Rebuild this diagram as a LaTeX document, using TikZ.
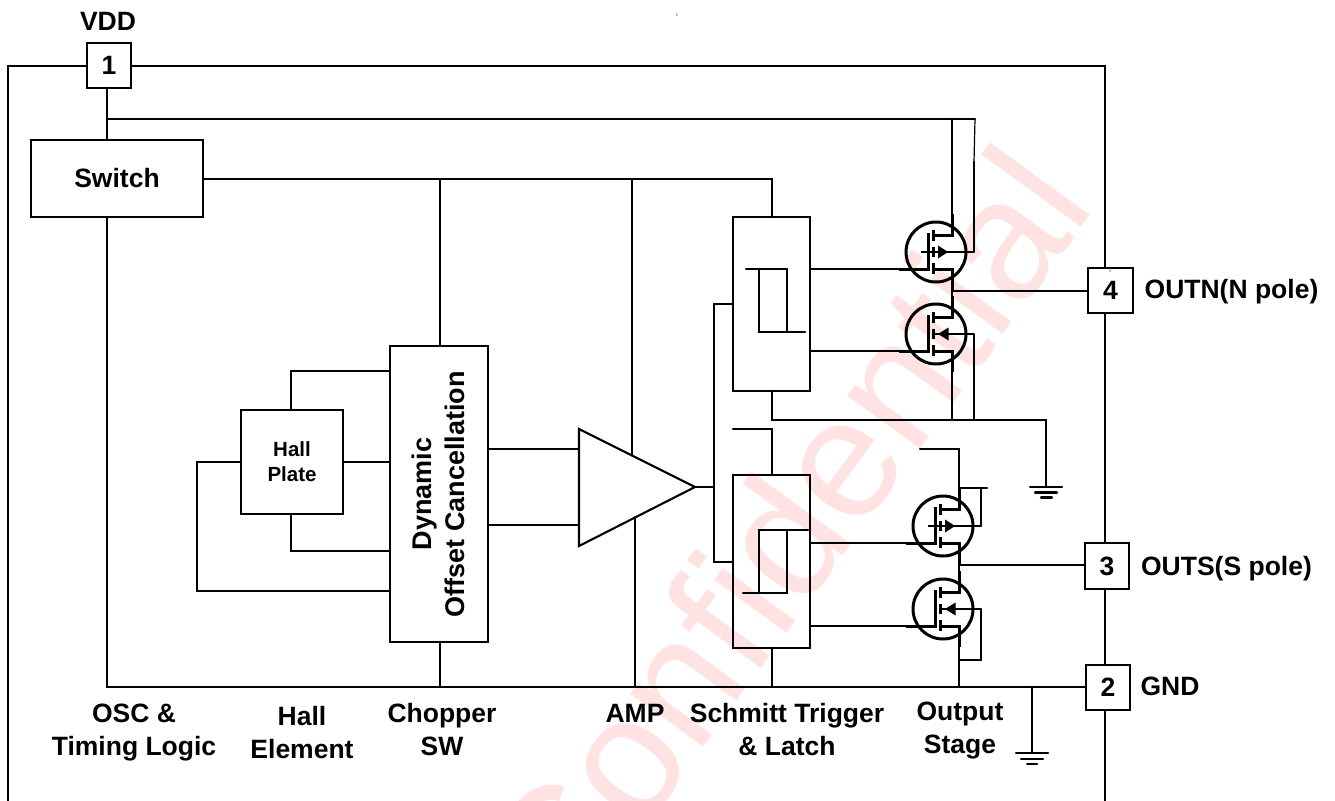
\documentclass[tikz,border=0pt]{standalone}
\usepackage{fontspec}
\setmainfont{Liberation Sans}
\begin{document}
\begin{tikzpicture}[x=1pt,y=-1pt,
  wire/.style={line width=2.1pt,line cap=round,line join=miter},
  bx/.style={draw,line width=2.1pt,rectangle,inner sep=0pt,outer sep=0pt,align=center,font=\bfseries\fontsize{26.5}{32}\selectfont},
  lbl/.style={inner sep=0pt,align=center,font=\bfseries\fontsize{26.5}{33}\selectfont},
  tiny/.style={inner sep=0pt,font=\fontsize{4}{4}\selectfont,text=black!70},
  mosbase/.pic={
    \draw[line width=3pt] (0,0) circle (30);
    \draw[line width=3pt] (-8,-19) -- (-8,17) -- (-37,17);
    \draw[line width=3.4pt] (-2.5,-22) -- (-2.5,-11) (-2.5,-5) -- (-2.5,5) (-2.5,11) -- (-2.5,22);
    \draw[line width=3pt] (-2.5,-17) -- (16,-17) -- (16,-38);
    \draw[line width=3pt] (-2.5,17) -- (16,17) -- (16,38);
  },
  mosr/.pic={
    \pic (-i) {mosbase};
    \draw[line width=2.8pt] (-15,0) -- (38,0);
    \fill (12,0) -- (2,-6.5) -- (2,6.5) -- cycle;
    \coordinate (-d) at (16,-30); \coordinate (-s) at (16,30);
    \coordinate (-g) at (-28,17); \coordinate (-b) at (38,0);
  },
  mosl/.pic={
    \pic (-i) {mosbase};
    \draw[line width=2.8pt] (-2.5,0) -- (38,0);
    \fill (2,0) -- (12.5,-6.5) -- (12.5,6.5) -- cycle;
    \coordinate (-d) at (16,-30); \coordinate (-s) at (16,30);
    \coordinate (-g) at (-28,17); \coordinate (-b) at (38,0);
  }]
\useasboundingbox (0,0) rectangle (1335,800);
\begin{scope}
\clip (0,0) rectangle (1335,800);
% watermark
\node[rotate=54,inner sep=0pt,anchor=base east,text=red!11,font=\fontsize{170}{170}\selectfont] (wm) at (1097,206) {Confidential};

% pins and blocks
\node[bx,minimum width=44,minimum height=45] (p1) at (109,65.5) {1};
\node[bx,minimum width=45,minimum height=45] (p4) at (1110.5,290.5) {4};
\node[bx,minimum width=44,minimum height=46] (p3) at (1107,566) {3};
\node[bx,minimum width=44,minimum height=45] (p2) at (1108,687.5) {2};
\node[bx,minimum width=172,minimum height=77] (sw) at (117,178.5) {Switch};
\node[bx,minimum width=98,minimum height=296] (dyn) at (439,494) {};
\node[rotate=90,inner sep=0pt,align=center,font=\bfseries\fontsize{27}{32.5}\selectfont] (dyntxt) at (438.5,494) {Dynamic\\Offset Cancellation};
\node[bx,minimum width=102,minimum height=104,font=\bfseries\fontsize{20.5}{25}\selectfont] (hall) at (292,462) {Hall\\Plate};
\node[bx,minimum width=77,minimum height=174] (lu) at (771.5,304) {};
\node[bx,minimum width=77,minimum height=173] (ll) at (771.5,561.5) {};
\coordinate (lx) at (772,0);

% chip outline
\coordinate (cbl) at (8,810); \coordinate (ctl) at (8,66); \coordinate (ctr) at (1105,66); \coordinate (cbr) at (1105,810);
\draw[wire] (cbl) -- (ctl) -- (p1.west |- ctl);
\draw[wire] (p1.east |- ctr) -- (ctr) -- (ctr |- p4.north);
\draw[wire] (ctr |- p4.south) -- (ctr |- p3.north);
\draw[wire] (ctr |- p3.south) -- (ctr |- p2.north);
\draw[wire] (ctr |- p2.south) -- (cbr);

% MOSFETs
\pic (m1) at (936,252) {mosr};
\pic (m2) at (936,334) {mosl};
\pic (m3) at (943,526) {mosr};
\pic (m4) at (943,609) {mosl};

% supply
\coordinate (vp) at (107,88);
\coordinate (vj) at (107,119);
\coordinate (vr) at (975,119);
\coordinate (vk) at (974,162);
\coordinate (sup) at (952,119);
\draw[wire] (vp) -- (vj |- sw.north);
\draw[wire] (vj) -- (vr);
\draw[line width=1.2pt] (vr) -- (vk);
\draw[wire] (vk) -- (m1-b);
\draw[wire] (sup) -- (m1-d);
\coordinate (dynx) at (440,179);
\coordinate (ampx) at (632,179);
\draw[wire] (sw.east |- dynx) -- (lx |- dynx) -- (lx |- lu.north);
\draw[wire] (dynx) -- (dynx |- dyn.north);
\coordinate (ampA) at (579,429); \coordinate (ampB) at (579,546); \coordinate (ampT) at (695,487);
\draw[wire,line join=miter] (ampA) -- (ampT) -- (ampB) -- cycle;
\coordinate (ampU) at (632,455.5); \coordinate (ampD) at (635,517.5);
\draw[wire] (ampx) -- (ampU);

% rail
\coordinate (railL) at (107,687);
\draw[wire] (vj |- sw.south) -- (railL) -- (p2.west |- railL);
\draw[wire] (ampD) -- (ampD |- railL);
\draw[wire] (dynx |- dyn.south) -- (dynx |- railL);
\draw[wire] (lx |- ll.south) -- (lx |- railL);

% Hall plate wiring
\coordinate (hx) at (291,371);
\draw[wire] (hx |- hall.north) -- (hx) -- (dyn.west |- hx);
\draw[wire] (hall.east) -- (dyn.west |- hall.east);
\coordinate (hb) at (291,551);
\draw[wire] (hb |- hall.south) -- (hb) -- (dyn.west |- hb);
\coordinate (hl) at (197,591);
\draw[wire] (hall.west) -- (hl |- hall.west) -- (hl) -- (dyn.west |- hl);
\coordinate (a1) at (488,449); \coordinate (a2) at (488,525);
\draw[wire] (a1) -- (ampA |- a1);
\draw[wire] (a2) -- (ampA |- a2);

% amp output to latches
\coordinate (bus) at (714,487);
\draw[wire] (ampT) -- (bus);
\draw[wire] (lu.west |- 0,304) -- (bus |- 0,304) -- (bus |- 0,562) -- (ll.west |- 0,562);

% upper latch symbol
\draw[wire] (746,269) -- (787,269) -- (787,332);
\draw[wire] (759,269) -- (759,332) -- (805,332);
% lower latch symbol
\draw[wire] (808,530) -- (759,530) -- (759,593);
\draw[wire] (743,593) -- (787,593) -- (787,530);

% latch tops
\coordinate (lt) at (733,429);
\draw[wire] (lt) -- (lx |- lt) -- (lx |- ll.north);

% gates
\draw[wire] (lu.east |- m1-g) -- (m1-g);
\draw[wire] (lu.east |- m2-g) -- (m2-g);
\draw[wire] (ll.east |- m3-g) -- (m3-g);
\draw[wire] (ll.east |- m4-g) -- (m4-g);

% upper output stage
\coordinate (o4) at (952,291);
\draw[wire] (m1-s) -- (m2-d);
\draw[wire] (o4) -- (p4.west |- o4);
\coordinate (gnd1) at (1046,420);
\draw[wire] (lx |- lu.south) -- (lx |- gnd1) -- (gnd1) -- (1046,487);
\draw[wire] (m2-s) -- (m2-s |- gnd1);
\draw[wire] (m2-b) -- (m2-b |- gnd1);
\draw[wire] (1030,487) -- (1062,487);
\draw[wire] (1035,492.5) -- (1057,492.5);
\draw[wire] (1041,497.5) -- (1052,497.5);

% lower output stage
\coordinate (o3) at (959,565);
\draw[wire] (920,449) -- (959,449) -- (m3-d);
\draw[wire] (959,488) -- (987,488);
\draw[wire] (m3-b) -- (m3-b |- 0,488);
\draw[wire] (m3-s) -- (m4-d);
\draw[wire] (o3) -- (p3.west |- o3);
\draw[wire] (m4-s) -- (m4-s |- railL);
\draw[wire] (m4-b) -- (m4-b |- 0,660) -- (959,660);

% lower ground
\coordinate (g2) at (1032,687);
\draw[wire] (g2) -- (1032,753);
\draw[wire] (1016,753) -- (1048,753);
\draw[wire] (1021,759) -- (1043,759);
\draw[wire] (1027,764) -- (1037,764);

% labels
\node[lbl] (vdd) at (108,21) {VDD};
\node[lbl] (outn) at (1231.5,292) {OUTN(N pole)};
\node[lbl] (outs) at (1226.5,569) {OUTS(S pole)};
\node[lbl] (gnd) at (1170,686) {GND};
\node[lbl] (osc) at (134,733) {OSC \&\\Timing Logic};
\node[lbl] (he) at (302,733) {Hall\\Element};
\node[lbl] (chop) at (442,730) {Chopper\\SW};
\node[lbl] (amp) at (635,713) {AMP};
\node[lbl] (st) at (787,730) {Schmitt Trigger\\\& Latch};
\node[lbl] (os) at (960,731) {Output\\Stage};
\node[tiny] (t1) at (677,15) {1};
\node[tiny] (t4) at (1110,271) {4};
\end{scope}
\end{tikzpicture}
\end{document}
